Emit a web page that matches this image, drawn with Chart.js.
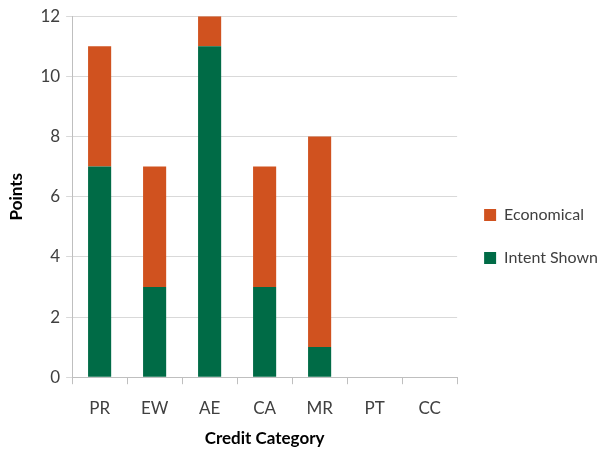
<!DOCTYPE html>
<html>
<head>
<meta charset="utf-8">
<script src="https://cdn.jsdelivr.net/npm/chart.js@4/dist/chart.umd.min.js"></script>
<style>
html,body{margin:0;padding:0;background:#fff;}
#wrap{width:606px;height:450px;position:relative;}
</style>
</head>
<body>
<div id="wrap"><canvas id="c" width="606" height="450"></canvas></div>
<script>
const categories = ["PR","EW","AE","CA","MR","PT","CC"];
const intentShown = [7,3,11,3,1,0,0];
const economical = [4,4,1,4,7,0,0];
const yTicks = [0,2,4,6,8,10,12];

const FONT = "Lato, 'Open Sans', sans-serif";
const ORANGE = "#D0521F";
const GREEN = "#006B46";

new Chart(document.getElementById('c'), {
  type: 'bar',
  data: {
    labels: categories,
    datasets: [
      {label: 'Intent Shown', data: intentShown, backgroundColor: GREEN, stack: 's', barPercentage: 0.42, categoryPercentage: 1},
      {label: 'Economical', data: economical, backgroundColor: ORANGE, stack: 's', barPercentage: 0.42, categoryPercentage: 1}
    ]
  },
  options: {
    responsive: false,
    animation: false,
    layout: {padding: {top: 10, left: 2, right: -2, bottom: 1}},
    plugins: {
      legend: {
        position: 'right',
        reverse: true,
        title: {display: true, text: ' ', font: {size: 10}, padding: {top: 1, bottom: 1}},
        labels: {boxWidth: 12, boxHeight: 12, padding: 27, color: '#404040', font: {family: FONT, size: 16}}
      },
      tooltip: {enabled: false}
    },
    scales: {
      x: {
        stacked: true,
        grid: {offset: true, drawOnChartArea: false, drawTicks: true, tickLength: 7, color: '#BFBFBF'},
        border: {color: '#BFBFBF'},
        ticks: {color: '#404040', font: {family: FONT, size: 17}, padding: 14},
        title: {display: true, text: 'Credit Category', color: '#000', font: {family: FONT, size: 17, weight: 'bold'}, padding: {top: -4, bottom: 0}}
      },
      y: {
        stacked: true,
        min: 0, max: 12,
        afterBuildTicks: (axis) => { axis.ticks = yTicks.map(v => ({value: v})); },
        grid: {color: '#D9D9D9', tickLength: 6},
        border: {color: '#BFBFBF'},
        ticks: {color: '#404040', font: {family: FONT, size: 17}, padding: 6},
        title: {display: true, text: 'Points', color: '#000', font: {family: FONT, size: 17, weight: 'bold'}, padding: {bottom: 8}}
      }
    }
  }
});
</script>
</body>
</html>
